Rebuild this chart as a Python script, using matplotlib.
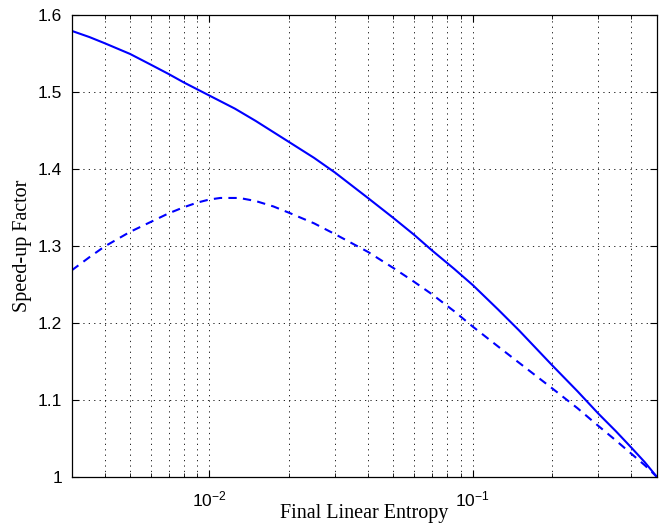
import matplotlib
matplotlib.use("Agg")
import matplotlib.pyplot as plt
from matplotlib.ticker import FixedLocator, LogLocator, NullFormatter

# Data
x_solid = [0.003, 0.0035, 0.004, 0.005, 0.006, 0.007, 0.008, 0.01, 0.0125, 0.015,
           0.02, 0.025, 0.03, 0.04, 0.05, 0.06, 0.07, 0.085, 0.1, 0.125, 0.15,
           0.2, 0.25, 0.3, 0.35, 0.4, 0.45, 0.5]
y_solid = [1.579, 1.571, 1.563, 1.549, 1.535, 1.523, 1.512, 1.495, 1.478, 1.462,
           1.435, 1.414, 1.395, 1.362, 1.336, 1.314, 1.294, 1.270, 1.249, 1.217, 1.190,
           1.145, 1.111, 1.082, 1.059, 1.038, 1.019, 1.000]

x_dashed = [0.003, 0.0035, 0.004, 0.005, 0.006, 0.007, 0.008, 0.009, 0.01, 0.011,
            0.013, 0.015, 0.0175, 0.02, 0.025, 0.03, 0.04, 0.05, 0.06, 0.07, 0.085,
            0.1, 0.125, 0.15, 0.2, 0.25, 0.3, 0.35, 0.4, 0.45, 0.5]
y_dashed = [1.268, 1.285, 1.299, 1.318, 1.331, 1.342, 1.350, 1.356, 1.360, 1.362,
            1.362, 1.358, 1.351, 1.343, 1.329, 1.315, 1.292, 1.271, 1.253, 1.237, 1.215,
            1.195, 1.169, 1.148, 1.115, 1.089, 1.066, 1.047, 1.030, 1.015, 1.000]

y_ticks = [1.0, 1.1, 1.2, 1.3, 1.4, 1.5, 1.6]
y_tick_labels = ["1", "1.1", "1.2", "1.3", "1.4", "1.5", "1.6"]
x_label = "Final Linear Entropy"
y_label = "Speed-up Factor"

plt.rcParams["mathtext.fontset"] = "custom"
plt.rcParams["mathtext.rm"] = "Liberation Sans"
plt.rcParams["mathtext.it"] = "Liberation Sans:italic"
plt.rcParams["mathtext.default"] = "rm"

fig = plt.figure(figsize=(6.67, 5.23), dpi=100)
ax = fig.add_axes([0.1075, 0.0885, 0.8771, 0.8834])

ax.plot(x_solid, y_solid, color="#0000ff", lw=1.5, solid_joinstyle="round")
ax.plot(x_dashed, y_dashed, color="#0000ff", lw=1.5, linestyle=(0, (4, 3)))

ax.set_xscale("log")
ax.set_xlim(0.003, 0.5)
ax.set_ylim(1.0, 1.6)

ax.yaxis.set_major_locator(FixedLocator(y_ticks))
ax.set_yticklabels(y_tick_labels)
ax.xaxis.set_major_locator(LogLocator(base=10, numticks=10))
ax.xaxis.set_minor_locator(LogLocator(base=10, subs=range(2, 10), numticks=20))
ax.xaxis.set_minor_formatter(NullFormatter())

grid_style = dict(color="black", linestyle=(0, (1.5, 5)), linewidth=0.6)
ax.grid(True, which="major", axis="both", **grid_style)
ax.grid(True, which="minor", axis="x", **grid_style)

ax.tick_params(which="major", direction="in", length=5, width=0.8,
               top=True, right=True, labelsize=12.5)
ax.tick_params(axis="y", which="major", pad=7)
ax.tick_params(axis="x", which="major", pad=9)
ax.tick_params(which="minor", direction="in", length=3, width=0.6,
               top=True, right=True)
for lab in ax.get_xticklabels() + ax.get_yticklabels():
    lab.set_family("Liberation Sans")

for s in ax.spines.values():
    s.set_linewidth(0.9)

ax.set_xlabel(x_label, family="Liberation Serif", fontsize=14.5, labelpad=-4)
ax.set_ylabel(y_label, family="Liberation Serif", fontsize=14.5, labelpad=4)

fig.savefig("out.png", dpi=100)
